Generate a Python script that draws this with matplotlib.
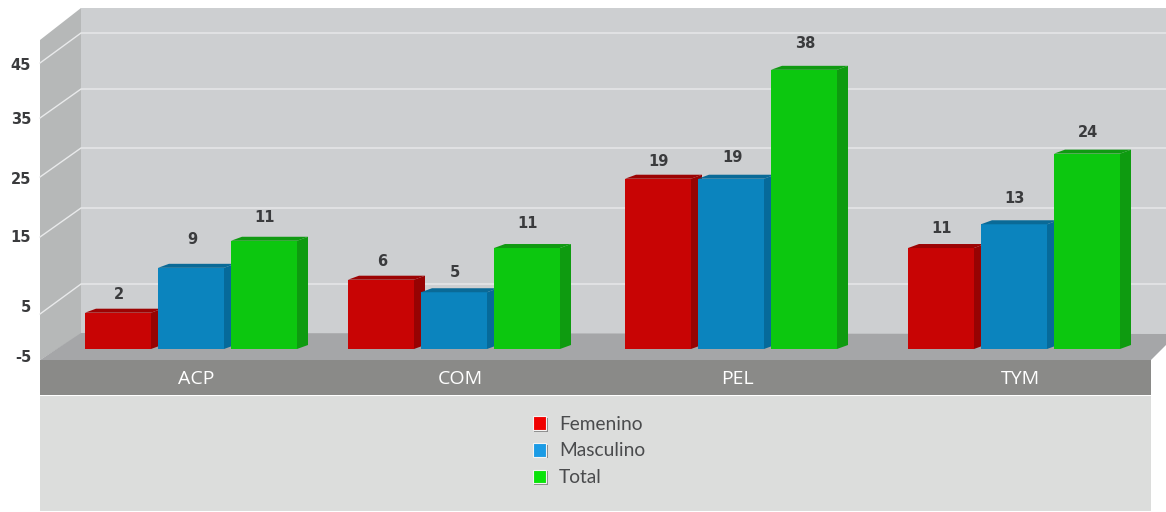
# -*- coding: utf-8 -*-
"""Barras agrupadas con aspecto 3D: Femenino / Masculino / Total por area."""

import matplotlib
matplotlib.use("Agg")
import matplotlib.pyplot as plt
import matplotlib.patheffects as pe
from matplotlib.patches import Patch, Polygon, Rectangle

plt.rcParams["font.family"] = ["Lato", "DejaVu Sans"]

# ---- datos ----
CATEGORIES = ["ACP", "COM", "PEL", "TYM"]
SERIES = ["Femenino", "Masculino", "Total"]

# etiquetas impresas sobre cada barra
femenino_labels = [2, 6, 19, 11]
masculino_labels = [9, 5, 19, 13]
total_labels = [11, 11, 38, 24]

# altura dibujada (no coincide del todo con las etiquetas)
femenino_drawn = [0.5, 5.5, 20.8, 10.3]
masculino_drawn = [7.3, 3.6, 20.8, 13.9]
total_drawn = [11.4, 10.3, 37.3, 24.6]

Y_TICKS = ["45", "35", "25", "15", "5", "-5"]

# ---- layout (pixeles de la imagen) ----
W, H = 1166, 512
GROUP_LEFT = [85, 348, 625, 908]
CAT_X = [196, 460, 737, 1020]
BAR_STEP = 73
BAR_W = 66
DEPTH_X, DEPTH_Y = 11, 4
BASE_PX = 349
PX_PER_UNIT = 6.6
BASE_VALUE = -5
TICK_PX = [66, 120, 180, 238, 307, 357]
GRID_BACK_PX = [33, 89, 148, 208, 284]
GRID_SIDE_PX = [63, 118, 177, 237, 314]
LABEL_LIFT = [
    [18, 18, 17, 20],
    [28, 20, 21, 26],
    [23, 25, 26, 21],
]

FACE = ["#C80404", "#0B84BE", "#0CC70F"]
SIDE = ["#970303", "#066A9A", "#0E9B10"]
TOP = ["#9C0303", "#0A6A97", "#109A12"]
LEGEND_COL = ["#F00000", "#1B9BE5", "#0AE30A"]
TEXT_DARK = "#3A3B3D"


def px_to_value(p):
    return (BASE_PX - p) / PX_PER_UNIT + BASE_VALUE


fig = plt.figure(figsize=(W / 100, H / 100), dpi=100, facecolor="white")

# fondo en pixeles
bg = fig.add_axes([0, 0, 1, 1])
bg.set_xlim(0, W)
bg.set_ylim(H, 0)
bg.axis("off")

bg.add_patch(Rectangle((81, 8), W - 81, 326, fc="#CDCFD1", ec="none"))
bg.add_patch(Polygon([(40, 40), (81, 8), (81, 334), (40, 360)], fc="#B6B8B8", ec="none"))
bg.add_patch(Polygon([(40, 360), (81, 333), (W, 334), (W, 345), (1151, 360)],
                     fc="#A5A6A8", ec="none"))
bg.add_patch(Rectangle((40, 360), 1111, 35, fc="#8A8A88", ec="none"))
bg.add_patch(Rectangle((40, 396), 1111, H - 397, fc="#DCDDDC", ec="none"))

for back, side in zip(GRID_BACK_PX, GRID_SIDE_PX):
    bg.plot([40, 81, W], [side, back, back], color="#E9EAEB", lw=1.0, solid_joinstyle="miter")

for lab, p in zip(Y_TICKS, TICK_PX):
    bg.text(31, p, lab, ha="right", va="center", fontsize=10.5, fontweight="bold",
            family="DejaVu Sans", color=TEXT_DARK)

for lab, x in zip(CATEGORIES, CAT_X):
    bg.text(x, 379, lab, ha="center", va="center", fontsize=14, fontweight="medium",
            family=["Open Sans", "DejaVu Sans"], color="white")

# barras en unidades del eje
ax = fig.add_axes([0, 0, 1, 1])
ax.set_xlim(0, W)
ax.set_ylim(px_to_value(H), px_to_value(0))
ax.patch.set_alpha(0)
ax.axis("off")

drawn = [femenino_drawn, masculino_drawn, total_drawn]
labels = [femenino_labels, masculino_labels, total_labels]
dy = DEPTH_Y / PX_PER_UNIT

for g, left in enumerate(GROUP_LEFT):
    for s in range(len(SERIES)):
        x0 = left + s * BAR_STEP
        x1 = x0 + BAR_W
        v = drawn[s][g]
        ax.bar(x0, v - BASE_VALUE, width=BAR_W, bottom=BASE_VALUE, align="edge",
               color=FACE[s], linewidth=0, zorder=3 + s)
        ax.add_patch(Polygon(
            [(x1, BASE_VALUE), (x1 + DEPTH_X, BASE_VALUE + dy), (x1 + DEPTH_X, v + dy), (x1, v)],
            fc=SIDE[s], ec="none", zorder=3 + s))
        ax.add_patch(Polygon(
            [(x0, v), (x0 + DEPTH_X, v + dy), (x1 + DEPTH_X, v + dy), (x1, v)],
            fc=TOP[s], ec="none", zorder=3 + s))
        ax.annotate(str(labels[s][g]), (x0 + BAR_W / 2 + 1, v),
                    xytext=(0, LABEL_LIFT[s][g] * 0.72), textcoords="offset points",
                    ha="center", va="center", fontsize=10.5, fontweight="bold",
                    family="DejaVu Sans", color=TEXT_DARK, zorder=10)

shadow = [pe.SimplePatchShadow(offset=(1.2, -1.2), shadow_rgbFace="#555555", alpha=0.6), pe.Normal()]
handles = [Patch(facecolor=c, edgecolor="#F4F4F4", linewidth=0.8, label=n, path_effects=shadow)
           for c, n in zip(LEGEND_COL, SERIES)]
leg = ax.legend(handles=handles, loc="center left", bbox_to_anchor=(525 / W, 1 - 451 / H),
                frameon=False, handlelength=0.72, handleheight=0.72, handletextpad=0.66,
                labelspacing=0.5, fontsize=13.8, borderpad=0.4, borderaxespad=0)
for t in leg.get_texts():
    t.set_color("#4A4B4D")

fig.savefig("out.png", dpi=100, facecolor="white")
